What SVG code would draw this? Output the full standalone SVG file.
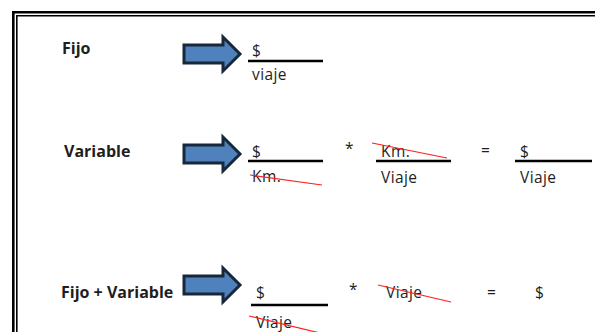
<svg xmlns="http://www.w3.org/2000/svg" width="595" height="332" viewBox="0 0 595 332">
<style>
text{font-family:"Open Sans","Liberation Sans",sans-serif;font-size:15.5px;fill:#1e1e1e;letter-spacing:0.4px}
.lbl{font-weight:bold;font-size:16px;letter-spacing:0}
.bar{stroke:#000;stroke-width:2.5}
.strike{stroke:#ff2020;stroke-width:1.2}
.arrow{fill:#4f81bd;stroke:#17283a;stroke-width:3;stroke-linejoin:miter}
</style>
<rect width="595" height="332" fill="#fff"/>
<g id="border" fill="none" stroke="#000">
<path d="M13.3 340 V12.3 H600" stroke-width="2.6"/>
<path d="M16.8 340 V15.8 H600" stroke-width="1.6"/>
</g>
<defs>
<path id="arr" d="M0 8 H39 V0 L56 17 L39 34 V26 H0 Z" class="arrow"/>
</defs>
<g id="row-fijo">
<text class="lbl" x="62" y="54">Fijo</text>
<use href="#arr" x="184" y="37"/>
<text x="252" y="56">$</text>
<line class="bar" x1="248" y1="61" x2="323" y2="61"/>
<text x="252" y="80">viaje</text>
</g>
<g id="row-variable">
<text class="lbl" x="64" y="157">Variable</text>
<use href="#arr" x="184" y="137"/>
<text x="252" y="157">$</text>
<line class="bar" x1="248" y1="161" x2="323" y2="161"/>
<text x="252" y="182">Km.</text>
<text x="345" y="154" font-size="12">*</text>
<text x="381" y="157">Km.</text>
<line class="bar" x1="376" y1="161" x2="451" y2="161"/>
<text x="381" y="183">Viaje</text>
<text x="481" y="156">=</text>
<text x="520" y="157">$</text>
<line class="bar" x1="515" y1="161" x2="592" y2="161"/>
<text x="520" y="183">Viaje</text>
</g>
<g id="row-total">
<text class="lbl" x="61" y="298">Fijo + Variable</text>
<use href="#arr" x="184" y="268"/>
<text x="256" y="298">$</text>
<line class="bar" x1="251" y1="305" x2="328" y2="305"/>
<text x="256" y="328">Viaje</text>
<text x="349" y="295" font-size="12">*</text>
<text x="386" y="298">Viaje</text>
<text x="487" y="298">=</text>
<text x="535" y="298">$</text>
</g>
<g id="connectors">
<line class="strike" x1="250" y1="175" x2="322" y2="185"/>
<line class="strike" x1="372" y1="143" x2="447" y2="158"/>
<line class="strike" x1="249" y1="316" x2="320" y2="333"/>
<line class="strike" x1="378" y1="285" x2="451" y2="302"/>
</g>
</svg>
